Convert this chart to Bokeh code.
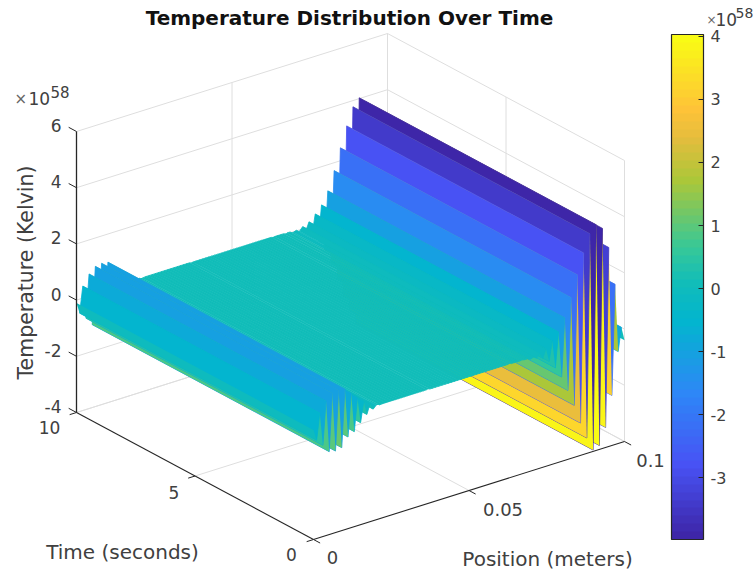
import numpy as np
from bokeh.plotting import figure
from bokeh.models import ColorBar, LinearColorMapper, FixedTicker, Range1d
from bokeh.core.properties import value
from bokeh.embed import file_html
from bokeh.resources import INLINE

# ---------------- data (temperature in units of 1e58 K) ----------------
position_end = 0.1
time_limits = [0.0, 10.0]
temperature_left = [-0.10, -0.50, 0.43, -0.75, 0.79, -1.05, 0.99, -1.10, 1.03, -1.05,
                    1.00, -0.74, 0.78, -0.62, 0.55, -0.37, 0.35, -0.15, 0.20, -0.03,
                    0.08, 0.05, 0.06]
temperature_flat = [0.06, 0.06, 0.06, 0.06, 0.06, 0.06, 0.06, 0.06, 0.06, 0.06,
                    0.06, 0.06, 0.06, 0.06, 0.05, 0.05, 0.05, 0.05, 0.05, 0.05,
                    0.05, 0.05, 0.05, 0.05, 0.05, 0.05, 0.05, 0.05, 0.05, 0.05,
                    0.05, 0.05, 0.05, 0.05, 0.05, 0.05, 0.05, 0.05, 0.05, 0.05,
                    0.04, 0.04, 0.04, 0.04, 0.03, 0.03]
temperature_right = [-0.02, 0.02, -0.05, 0.08, -0.12, 0.18, -0.30, 0.39, -0.60, 0.64,
                     -1.00, 1.07, -1.55, 1.72, -2.15, 2.46, -2.85, 3.17, -3.45, 3.78,
                     -3.95, 4.03, -3.86, 3.83, -3.29, 3.08, -2.22, 1.70, -0.73, 0.10,
                     -0.40]
temperature = np.array(temperature_left + temperature_flat + temperature_right)
position = np.arange(len(temperature)) / (len(temperature) - 1) * position_end

z_ticks = [-4, -2, 0, 2, 4, 6]
z_labels = ["-4", "-2", "0", "2", "4", "6"]
t_ticks = [0, 5, 10]
t_labels = ["0", "5", "10"]
x_ticks = [0, 0.05, 0.1]
x_labels = ["0", "0.05", "0.1"]
x_lim, t_lim, z_lim = (0, 0.1), (0, 10), (-4, 6)
c_lim = (-3.98, 4.03)
c_ticks = [-3, -2, -1, 0, 1, 2, 3, 4]
c_labels = ["-3", "-2", "-1", "0", "1", "2", "3", "4"]
title_text = "Temperature Distribution Over Time"

parula_pos = [0, 1/7, 2/7, 0.43, 0.51, 0.58, 5/7, 0.80, 6/7, 1]
parula_rgb = [(.2422, .1504, .6603), (.2810, .3228, .9579), (.1786, .5289, .9682),
              (.0100, .7100, .8100), (.0700, .7400, .7250), (.2161, .7843, .5923),
              (.6720, .7793, .2227), (.9000, .7400, .2400), (.9970, .7659, .2199),
              (.9769, .9839, .0805)]

def colour(frac):
    return tuple(float(np.interp(frac, parula_pos, [c[k] for c in parula_rgb])) for k in range(3))

palette = ["#%02x%02x%02x" % tuple(int(round(255 * c)) for c in colour(i / 63)) for i in range(64)]

def cmap(v):
    i = int(np.clip((v - c_lim[0]) / (c_lim[1] - c_lim[0]) * 64, 0, 63))
    return palette[i]

# fixed orthographic view of the 3-D box, in page pixels
def project(x, t, z):
    return (313 + 3110 * np.asarray(x, float) - 23.7 * np.asarray(t, float),
            539 - 980 * np.asarray(x, float) - 12.7 * np.asarray(t, float) - 28.1 * (np.asarray(z, float) + 4))

DARK = "#262626"
GRID = "#dedede"
LABEL = "#404040"
FONT = value("DejaVu Sans")

p = figure(width=753, height=572, x_range=Range1d(0, 753), y_range=Range1d(572, 0),
           output_backend="svg", toolbar_location=None, min_border=0,
           outline_line_color=None, background_fill_color="white")
p.axis.visible = False
p.grid.visible = False

def lines(segs, color, width=1.0):
    xs, ys = [], []
    for a, b in segs:
        ax, ay = project(*a)
        bx, by = project(*b)
        xs.append([float(ax), float(bx)])
        ys.append([float(ay), float(by)])
    p.multi_line(xs, ys, line_color=color, line_width=width)

# walls and floor
x0, x1 = x_lim; t0, t1 = t_lim; z0, z1 = z_lim
g = []
for z in z_ticks:
    g.append(((x0, t1, z), (x1, t1, z)))
    g.append(((x1, t1, z), (x1, t0, z)))
for x in x_ticks:
    g.append(((x, t1, z0), (x, t1, z1)))
    g.append(((x, t0, z0), (x, t1, z0)))
for t in t_ticks:
    g.append(((x1, t, z0), (x1, t, z1)))
    g.append(((x0, t, z0), (x1, t, z0)))
g = [s for s in g if not (s[0] == (x0, t0, z0) and s[1] in ((x1, t0, z0), (x0, t1, z0)))]
lines(g, GRID)

# surface: one flat-coloured face per position interval, far faces first
xs, ys, cols, widths = [], [], [], []
for i in range(len(position) - 2, -1, -1):
    xa, xb = position[i], position[i + 1]
    za, zb = temperature[i], temperature[i + 1]
    px, py = project([xa, xb, xb, xa], [t0, t0, t1, t1], [za, zb, zb, za])
    xs.append(px.tolist()); ys.append(py.tolist()); cols.append(cmap(za))
    widths.append(0.8 if zb >= za else 0.0)
p.patches(xs, ys, fill_color=cols, line_color=cols, line_width=widths)

# axes and ticks
lines([((x0, t1, z0), (x0, t1, z1))], DARK, 1.3)
lines([((x0, t0, z0), (x0, t1, z0)), ((x0, t0, z0), (x1, t0, z0))], DARK, 1.1)
ticks = []
for z in z_ticks:
    ticks.append(((x0, t1, z), (x0, t1 + 0.33, z)))
for x in x_ticks:
    ticks.append(((x, t0, z0), (x, t0 - 0.28, z0)))
for t in t_ticks:
    ticks.append(((x0, t, z0), (x0 - 0.0022, t, z0)))
lines(ticks, DARK, 1.0)

def label(x, y, s, size, align="center", angle=0.0, color=LABEL, style="normal"):
    p.text([x], [y], text=[s], text_font=FONT, text_font_size=value(size), text_color=color,
           text_align=align, text_baseline="middle", angle=angle, text_font_style=style)

for z, s in zip(z_ticks, z_labels):
    _, y = project(x0, t1, z)
    label(61, float(y) - 6, s, "17px", "right")
for t, s, dx, dy in zip(t_ticks, t_labels, (-22, -21, -27), (15, 16, 15)):
    px, py = project(x0, t, z0)
    label(float(px) + dx, float(py) + dy, s, "17px", "center")
for x, s, dx, dy in zip(x_ticks, x_labels, (19, 34, 26), (18, 19, 19)):
    px, py = project(x, t0, z0)
    label(float(px) + dx, float(py) + dy, s, "18px", "center")

label(349, 17, title_text, "20px", "center", color="#111111", style="bold")
label(25, 272, "Temperature (Kelvin)", "20.5px", "center", angle=np.pi / 2)
label(122, 551, "Time (seconds)", "20px", "center")
label(547, 558, "Position (meters)", "20px", "center")

label(14, 98, "\u00d7", "15px", "left", color="#666666")
label(28, 98, "10", "17px", "left")
label(50, 91, "58", "15px", "left")
label(706, 19, "\u00d7", "12px", "left", color="#666666")
label(715, 19, "10", "17px", "left")
label(735, 12, "58", "14px", "left")

mapper = LinearColorMapper(palette=palette, low=c_lim[0], high=c_lim[1])
cb = ColorBar(color_mapper=mapper, location=(671, 33), width=32, height=505, padding=0, margin=0,
              ticker=FixedTicker(ticks=c_ticks), major_tick_in=5, major_tick_out=0,
              major_label_overrides=dict(zip(c_ticks, c_labels)),
              major_tick_line_color=DARK, minor_tick_line_color=None, bar_line_color=DARK,
              bar_line_width=1.2, major_label_text_font="DejaVu Sans",
              major_label_text_font_size="16px", major_label_text_color=LABEL,
              label_standoff=7, background_fill_alpha=0)
p.add_layout(cb)

open("out.html", "w").write(file_html(p, INLINE))
